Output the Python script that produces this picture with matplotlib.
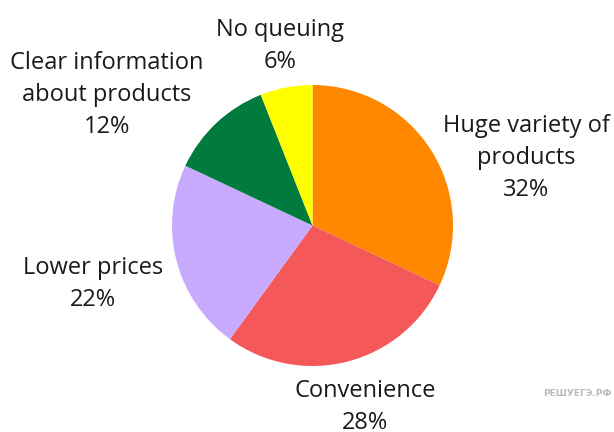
import matplotlib
matplotlib.use("Agg")
import matplotlib.pyplot as plt

# survey answers
categories = ["Huge variety of\nproducts", "Convenience", "Lower prices",
              "Clear information\nabout products", "No queuing"]
shares = [32, 28, 22, 12, 6]
colors = ["#FF8800", "#F55858", "#C8AAFF", "#007A3D", "#FFFF00"]

# label anchor points in image pixels (x, y of the text centre)
label_pos = [(526, 158), (365, 407), (93, 284), (107, 95), (280, 46)]

W, H = 614, 432
fig = plt.figure(figsize=(W / 100, H / 100), dpi=100)
ax = fig.add_axes([0, 0, 1, 1])

ax.pie(shares, colors=colors, startangle=90, counterclock=False,
       center=(312.5, H - 225.5), radius=140.5, frame=True,
       wedgeprops=dict(linewidth=0))
ax.set_xlim(0, W)
ax.set_ylim(0, H)
ax.set_aspect("equal")
ax.axis("off")

for name, val, (x, y) in zip(categories, shares, label_pos):
    ax.text(x, H - y, f"{name}\n{val}%", ha="center", va="center",
            fontsize=17, linespacing=1.46, color="#1a1a1a",
            family=["Open Sans", "DejaVu Sans"])

ax.text(612, H - 393, "РЕШУЕГЭ.РФ", ha="right", va="center",
        fontsize=6.5, color="#BBBBBB", fontweight="bold")

fig.savefig("out.png", dpi=100)
